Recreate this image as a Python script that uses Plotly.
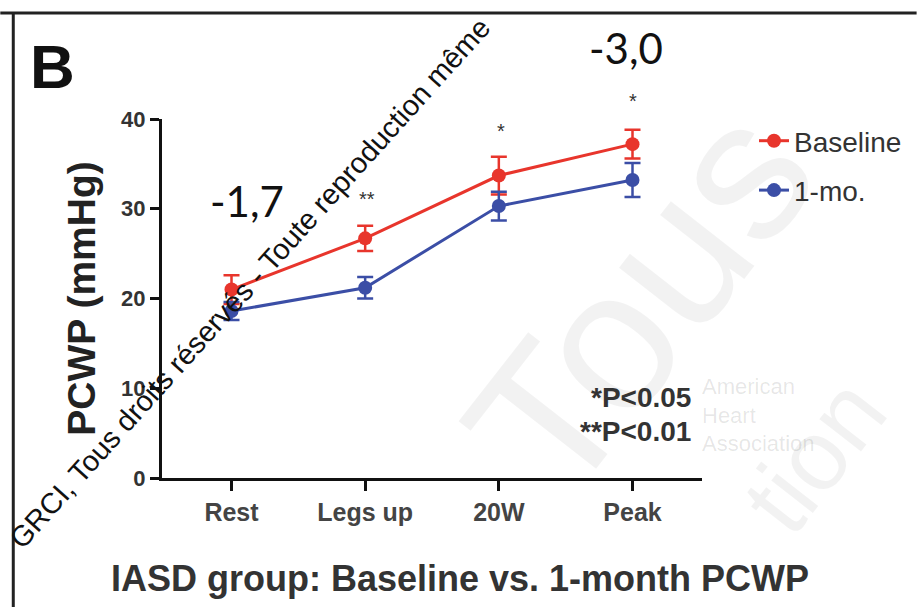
import plotly.graph_objects as go

categories = ["Rest", "Legs up", "20W", "Peak"]
baseline = [21.0, 26.7, 33.7, 37.2]
baseline_err = [1.6, 1.4, 2.1, 1.6]
onemo = [18.6, 21.2, 30.3, 33.2]
onemo_err = [1.0, 1.2, 1.6, 1.9]
ytick_vals = [0, 10, 20, 30, 40]

RED = "#e8352c"
BLUE = "#3b4ea6"
FONT = "Liberation Sans"

W, H = 918, 607
L, R, T, B = 162, 215, 119, 129


def px(xp, yp):
    """pixel position -> paper coordinates"""
    return (xp - L) / (W - L - R), (H - B - yp) / (H - T - B)


fig = go.Figure()
fig.add_trace(go.Scatter(
    x=categories, y=baseline, name="Baseline", mode="lines+markers",
    line=dict(color=RED, width=3), marker=dict(color=RED, size=14),
    error_y=dict(type="data", array=baseline_err, color=RED, thickness=2.5, width=8),
    legendgroup="a"))
fig.add_trace(go.Scatter(
    x=categories, y=onemo, name="1-mo.", mode="lines+markers",
    line=dict(color=BLUE, width=3), marker=dict(color=BLUE, size=14),
    error_y=dict(type="data", array=onemo_err, color=BLUE, thickness=2.5, width=8),
    legendgroup="b"))

annotations = []


def add_px(text, xp, yp, size, color="#111", family=FONT, xanchor="center", angle=0, align="center"):
    x, y = px(xp, yp)
    annotations.append(dict(x=x, y=y, xref="paper", yref="paper", text=text, showarrow=False,
                            xanchor=xanchor, yanchor="middle", textangle=angle, align=align,
                            font=dict(family=family, size=size, color=color)))


# faint background watermarks (drawn first)
add_px("Tous", 640, 300, 200, color="rgba(0,0,0,0.05)", angle=-52)
add_px("tion", 815, 455, 100, color="rgba(0,0,0,0.05)", angle=-52)
add_px("American<br>Heart<br>Association", 760, 415, 22, color="rgba(0,0,0,0.10)",
       xanchor="center", align="left")

# significance stars
add_px("**", 367, 199, 20, color="#333")
add_px("*", 502, 131, 20, color="#333")
add_px("*", 634, 101, 20, color="#333")
# difference labels
add_px("-1,7", 247, 201, 42, family="Lato")
add_px("-3,0", 627, 48, 42, family="Lato")
# p-value legend
add_px("<b>*P&lt;0.05</b>", 694, 397, 28, color="#333", xanchor="right")
add_px("<b>**P&lt;0.01</b>", 694, 431, 28, color="#333", xanchor="right")
# panel letter
add_px("<b>B</b>", 52, 66, 62)
# bottom title
add_px("<b>IASD group: Baseline vs. 1-month PCWP</b>", 461, 578, 36, color="#333")
# diagonal copyright text
add_px("GRCI, Tous droits réservés - Toute reproduction même", 250, 283, 29, angle=-48)

lx, ly = px(754, 116)
fig.update_layout(
    width=W, height=H,
    margin=dict(l=L, r=R, t=T, b=B),
    paper_bgcolor="white", plot_bgcolor="white",
    showlegend=True,
    legend=dict(x=lx, y=ly, xanchor="left", yanchor="top",
                font=dict(family=FONT, size=28, color="#333"),
                tracegroupgap=10, bgcolor="rgba(0,0,0,0)"),
    xaxis=dict(type="category", range=[-0.52, 3.52], showline=True, linecolor="#111",
               linewidth=3, ticks="outside", ticklen=10, tickwidth=3, tickcolor="#111",
               showgrid=False, zeroline=False,
               tickfont=dict(family=FONT, size=25, color="#444"),
               tickvals=categories, ticktext=["<b>%s</b>" % c for c in categories]),
    yaxis=dict(range=[0, 40], showline=True, linecolor="#111", linewidth=3,
               ticks="outside", ticklen=9, tickwidth=3, tickcolor="#111",
               showgrid=False, zeroline=False, tickvals=ytick_vals,
               ticktext=["<b>%d</b>" % v for v in ytick_vals],
               tickfont=dict(family=FONT, size=22, color="#333"),
               title=dict(text="<b>PCWP (mmHg)</b>", standoff=14,
                          font=dict(family=FONT, size=39, color="#222"))),
    annotations=annotations,
)

# frame lines of the slide
fx0, fy0 = px(0, 13)
fx1, _ = px(918, 13)
fig.add_shape(type="line", xref="paper", yref="paper", x0=fx0, x1=fx1, y0=fy0, y1=fy0,
              line=dict(color="#222", width=3))
vx, vy0 = px(13, 13)
_, vy1 = px(13, 607)
fig.add_shape(type="line", xref="paper", yref="paper", x0=vx, x1=vx, y0=vy0, y1=vy1,
              line=dict(color="#222", width=3))

fig.write_html("out.html")
